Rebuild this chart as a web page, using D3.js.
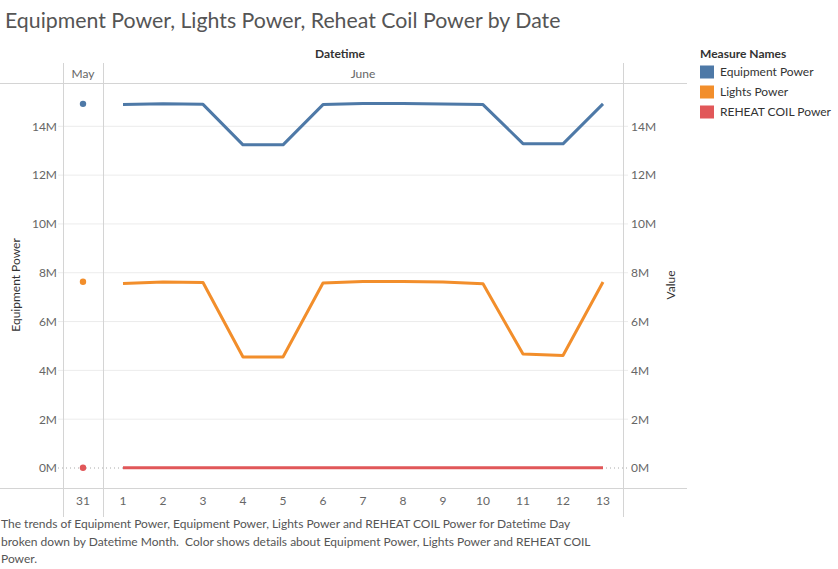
<!DOCTYPE html>
<html><head><meta charset="utf-8">
<script src="https://cdn.jsdelivr.net/npm/d3@7"></script>
<style>
html,body{margin:0;padding:0;background:#fff;}
svg{display:block;font-family:Lato,"Open Sans",sans-serif;}
</style></head>
<body>
<svg id="chart" width="838" height="569"></svg>
<script>
const months = ["May","June"];
const dayLabels = ["31","1","2","3","4","5","6","7","8","9","10","11","12","13"];
const dayMonth = ["May","June","June","June","June","June","June","June","June","June","June","June","June","June"];
const seriesNames = ["Equipment Power","Lights Power","REHEAT COIL Power"];
const equipment = [14.92,14.89,14.92,14.90,13.24,13.24,14.89,14.93,14.93,14.91,14.89,13.29,13.28,14.92];
const lights = [7.63,7.56,7.62,7.60,4.55,4.55,7.58,7.64,7.64,7.62,7.55,4.67,4.61,7.62];
const reheat = [0.01,0.01,0.01,0.01,0.01,0.01,0.01,0.01,0.01,0.01,0.01,0.01,0.01,0.01];
const yTicks = [0,2,4,6,8,10,12,14];
const colors = ["#4e79a7","#f28e2b","#e15759"];
const seriesValues = [equipment, lights, reheat];

const svg = d3.select("#chart");
const gridCol = "#ececec", sepCol = "#d4d4d4";

// layout
const paneLeft = 63, paneRight = 623, paneTop = 83, paneBottom = 488;
const monthCounts = months.map(m => dayMonth.filter(d => d === m).length);
const total = d3.sum(monthCounts);
const monthScale = d3.scaleLinear().domain([0,total]).range([paneLeft,paneRight]);
let acc = 0;
const monthPanes = months.map((m,i) => { const p = {m, x0: monthScale(acc), x1: monthScale(acc+monthCounts[i])}; acc += monthCounts[i]; return p; });
const xScales = {};
monthPanes.forEach(p => {
  const days = dayLabels.filter((d,i) => dayMonth[i] === p.m);
  xScales[p.m] = d3.scalePoint().domain(days).range([p.x0,p.x1]).padding(0.5);
});
const xPos = i => xScales[dayMonth[i]](dayLabels[i]);

const y = d3.scaleLinear().domain([0,14]).range([468,126.3]);

// title
svg.append("text").attr("x",5).attr("y",28).attr("font-size",21.3).attr("fill","#555")
  .text("Equipment Power, Lights Power, Reheat Coil Power by Date");

// header
svg.append("text").attr("x",340).attr("y",58).attr("text-anchor","middle").attr("font-size",12)
  .attr("font-weight","bold").attr("fill","#333").text("Datetime");
monthPanes.forEach(p => {
  svg.append("text").attr("x",(p.x0+p.x1)/2).attr("y",78).attr("text-anchor","middle")
    .attr("font-size",12).attr("fill","#666").text(p.m);
});

// gridlines
const grid = svg.append("g");
yTicks.filter(t => t !== 0).forEach(t => {
  grid.append("line").attr("x1",58).attr("x2",628).attr("y1",y(t)).attr("y2",y(t))
    .attr("stroke",gridCol).attr("stroke-width",1);
});
grid.append("line").attr("x1",58).attr("x2",628).attr("y1",y(0)).attr("y2",y(0))
  .attr("stroke","#aaa").attr("stroke-width",1).attr("stroke-dasharray","1,3");

// separators
svg.append("line").attr("x1",0).attr("x2",687).attr("y1",paneTop+0.5).attr("y2",paneTop+0.5).attr("stroke",sepCol);
svg.append("line").attr("x1",0).attr("x2",687).attr("y1",paneBottom+0.5).attr("y2",paneBottom+0.5).attr("stroke",sepCol);
[paneLeft, monthPanes[0].x1, paneRight].forEach(xv => {
  svg.append("line").attr("x1",Math.round(xv)+0.5).attr("x2",Math.round(xv)+0.5).attr("y1",63).attr("y2",517)
    .attr("stroke",sepCol);
});

// y axes
const leftAxis = d3.axisLeft(y).tickValues(yTicks).tickFormat(d => d + "M").tickSize(0).tickPadding(6);
const gl = svg.append("g").attr("transform",`translate(${paneLeft},0)`).call(leftAxis);
const rightAxis = d3.axisRight(y).tickValues(yTicks).tickFormat(d => d + "M").tickSize(0).tickPadding(8);
const gr = svg.append("g").attr("transform",`translate(${paneRight},0)`).call(rightAxis);
[gl,gr].forEach(g => {
  g.select(".domain").remove();
  g.selectAll("text").attr("font-size",12).attr("fill","#666").attr("font-family","Lato,sans-serif");
});

svg.append("text").attr("transform","translate(20,285) rotate(-90)").attr("text-anchor","middle")
  .attr("font-size",12).attr("fill","#333").text("Equipment Power");
svg.append("text").attr("transform","translate(675,285) rotate(-90)").attr("text-anchor","middle")
  .attr("font-size",12).attr("fill","#333").text("Value");

// x axis labels
dayLabels.forEach((d,i) => {
  svg.append("text").attr("x",xPos(i)).attr("y",505).attr("text-anchor","middle")
    .attr("font-size",12).attr("fill","#666").text(d);
});

// series
const line = d3.line().x(d => xPos(d.i)).y(d => y(d.v));
seriesValues.forEach((vals,s) => {
  const pts = vals.map((v,i) => ({i,v}));
  monthPanes.forEach(p => {
    const sub = pts.filter(d => dayMonth[d.i] === p.m);
    if (sub.length > 1) {
      svg.append("path").datum(sub).attr("d",line).attr("fill","none")
        .attr("stroke",colors[s]).attr("stroke-width",3).attr("stroke-linejoin","round");
    } else {
      svg.append("circle").attr("cx",xPos(sub[0].i)).attr("cy",y(sub[0].v)).attr("r",3.2).attr("fill",colors[s]);
    }
  });
});

// legend
const lg = svg.append("g");
lg.append("text").attr("x",700).attr("y",58).attr("font-size",12).attr("font-weight","bold").attr("fill","#333").text("Measure Names");
seriesNames.forEach((n,i) => {
  const cy = 72 + i*20;
  lg.append("rect").attr("x",700).attr("y",cy-6.5).attr("width",14).attr("height",13).attr("fill",colors[i]);
  lg.append("text").attr("x",720).attr("y",cy+4).attr("font-size",12).attr("fill","#333").text(n);
});

// caption
const caption = ["The trends of Equipment Power, Equipment Power, Lights Power and REHEAT COIL Power for Datetime Day",
  "broken down by Datetime Month.  Color shows details about Equipment Power, Lights Power and REHEAT COIL",
  "Power."];
caption.forEach((c,i) => {
  svg.append("text").attr("x",1).attr("y",528 + i*17.5).attr("font-size",12).attr("fill","#555")
    .attr("xml:space","preserve").style("white-space","pre").text(c);
});
</script>
</body></html>
